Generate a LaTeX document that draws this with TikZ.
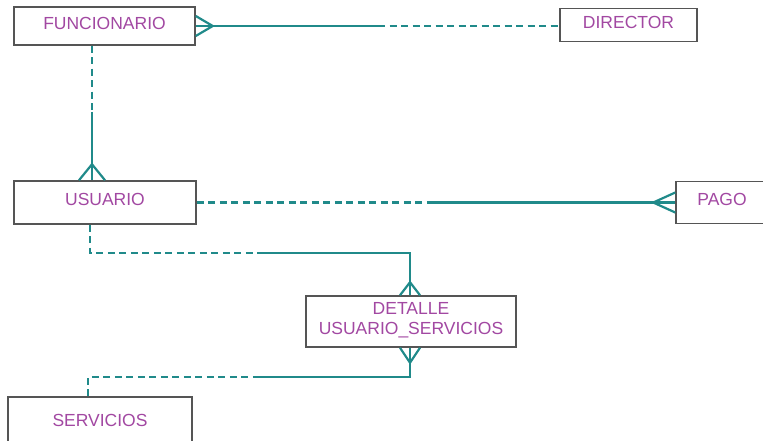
\documentclass[tikz,border=0pt]{standalone}
\usepackage{fontspec}
\setmainfont{Liberation Sans}
\usepackage{tikz}
\usepackage{color}

\definecolor{relcol}{RGB}{32,138,138}
\definecolor{txtcol}{RGB}{162,72,162}
\definecolor{boxcol}{RGB}{85,85,85}

\begin{document}
\begin{tikzpicture}[x=1pt,y=-1pt,
  ent/.style={draw=boxcol,line width=1.5pt,fill=white,inner sep=0pt,
    font=\fontsize{17.5}{20}\selectfont,text=txtcol,align=center,text depth=6pt},
  rel/.style={draw=relcol,line width=2.2pt},
  reldash/.style={rel,dash pattern=on 7pt off 4.5pt}]
\clip (0,0) rectangle (763,441);
\fill[white] (0,0) rectangle (763,441);
% entities
\node[ent,minimum width=181pt,minimum height=38pt] (fun) at (104.5,26) {FUNCIONARIO};
\node[ent,minimum width=137pt,minimum height=33pt] (dir) at (628.5,25) {DIRECTOR};
\node[ent,minimum width=182pt,minimum height=43pt] (usu) at (105,202.5) {USUARIO};
\node[ent,minimum width=100pt,minimum height=42pt] (pago) at (726,202.5) {\hspace{-4pt}PAGO\hspace{4pt}};
\node[ent,minimum width=210pt,minimum height=51pt] (det) at (411,321.5) {DETALLE\\USUARIO\_SERVICIOS};
\node[ent,minimum width=184pt,minimum height=53pt] (serv) at (100,423.5) {SERVICIOS};
% break points
\coordinate (fd) at (378,26);
\coordinate (fu) at (92,112);
\coordinate (up) at (427,202.5);
\coordinate (ud1) at (90,253);
\coordinate (ud2) at (264,253);
\coordinate (ud3) at (410,253);
\coordinate (sd1) at (88,377);
\coordinate (sd2) at (258,377);
\coordinate (sd3) at (410,377);
% FUNCIONARIO - DIRECTOR
\draw[rel] (fun.east) -- (fd);
\draw[reldash] (fd) -- (fd -| dir.west);
\draw[rel] (fun.east) ++(0,-10) -- ++(17,10) -- ++(-17,10);
% FUNCIONARIO - USUARIO
\draw[reldash] (fu |- fun.south) -- (fu);
\draw[rel] (fu) -- (fu |- usu.north);
\draw[rel] (fu |- usu.north) ++(-13,0) -- ++(13,-16) -- ++(13,16);
% USUARIO - PAGO
\draw[reldash] (usu.east) -- (up);
\draw[rel] (up) -- (pago.west);
\draw[rel] (pago.west) ++(0,-10) -- ++(-22,10) -- ++(22,10);
% USUARIO - DETALLE
\draw[reldash] (ud1 |- usu.south) -- (ud1) -- (ud2);
\draw[rel] (ud2) -- (ud3) -- (ud3 |- det.north);
\draw[rel] (ud3 |- det.north) ++(-10,0) -- ++(10,-13) -- ++(10,13);
% SERVICIOS - DETALLE
\draw[reldash] (sd1 |- serv.north) -- (sd1) -- (sd2);
\draw[rel] (sd2) -- (sd3) -- (sd3 |- det.south);
\draw[rel] (sd3 |- det.south) ++(-10,0) -- ++(10,15) -- ++(10,-15);
\end{tikzpicture}
\end{document}
